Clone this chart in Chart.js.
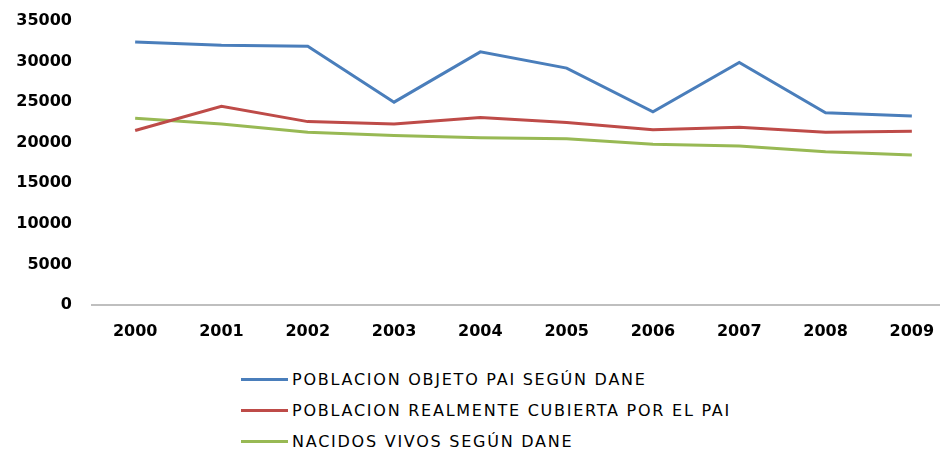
<!DOCTYPE html>
<html>
<head>
<meta charset="utf-8">
<script src="https://cdn.jsdelivr.net/npm/chart.js@4"></script>
<style>
  html, body { margin: 0; padding: 0; background: #fff; overflow: hidden; width: 940px; height: 451px; }
  #wrap { position: absolute; left: 0; top: 0; width: 960px; height: 345px; }
  #legend { position: absolute; left: 241px; top: 364px; font-family: "DejaVu Sans", sans-serif; font-size: 16px; color: #000; letter-spacing: 1.75px; }
  .row { height: 31px; display: flex; align-items: center; position: absolute; left: 0; white-space: nowrap; }
  .swatch { width: 47px; height: 3px; margin-right: 4px; }
</style>
</head>
<body>
<div id="wrap"><canvas id="chart" width="960" height="345"></canvas></div>
<div id="legend"></div>
<script>
const years = ["2000", "2001", "2002", "2003", "2004", "2005", "2006", "2007", "2008", "2009"];
const poblacionObjeto = [32400, 32000, 31900, 25000, 31200, 29200, 23800, 29900, 23700, 23300];
const poblacionCubierta = [21500, 24500, 22600, 22300, 23100, 22500, 21600, 21900, 21300, 21400];
const nacidosVivos = [23000, 22300, 21300, 20900, 20600, 20500, 19800, 19600, 18900, 18500];
const seriesNames = [
    "POBLACION OBJETO PAI SEGÚN DANE",
    "POBLACION REALMENTE CUBIERTA POR EL PAI",
    "NACIDOS VIVOS SEGÚN DANE"
];
const seriesColors = ["#4A7EBB", "#BE4B48", "#98B954"];
const yTicks = [0, 5000, 10000, 15000, 20000, 25000, 30000, 35000];

const tickFont = { family: "DejaVu Sans", size: 16, weight: "bold" };

function makeDataset(i, data) {
    return {
        label: seriesNames[i],
        data: data,
        borderColor: seriesColors[i],
        backgroundColor: seriesColors[i],
        borderWidth: 3,
        pointRadius: 0,
        tension: 0,
        fill: false
    };
}

const ctx = document.getElementById('chart').getContext('2d');
const chart = new Chart(ctx, {
    type: 'line',
    data: {
        labels: years,
        datasets: [
            makeDataset(0, poblacionObjeto),
            makeDataset(1, poblacionCubierta),
            makeDataset(2, nacidosVivos)
        ]
    },
    options: {
        responsive: false,
        animation: false,
        layout: { padding: { top: 21, right: 5, left: 0, bottom: 0 } },
        plugins: {
            legend: { display: false },
            tooltip: { enabled: false }
        },
        scales: {
            x: {
                offset: true,
                grid: { display: false, drawTicks: false },
                border: { display: true, color: "#BFBFBF", width: 2 },
                ticks: { font: tickFont, color: "#000", padding: 17, maxRotation: 0 },
                // fixed axis box so the plot area lines up with the picture
                afterFit: (scale) => { scale.height = 40; scale.paddingLeft = 0; scale.paddingRight = 0; }
            },
            y: {
                min: 0,
                max: 35000,
                afterBuildTicks: (scale) => { scale.ticks = yTicks.map(v => ({ value: v })); },
                grid: { display: false, drawTicks: false },
                border: { display: false },
                ticks: { font: tickFont, color: "#000", padding: 20, callback: (v) => String(v) },
                afterFit: (scale) => { scale.width = 92; scale.paddingTop = 0; scale.paddingBottom = 0; }
            }
        }
    }
});

// legend vertical, left aligned
const legend = document.getElementById('legend');
seriesNames.forEach((name, i) => {
    const row = document.createElement('div');
    row.className = 'row';
    row.style.top = (i * 31) + 'px';
    const sw = document.createElement('div');
    sw.className = 'swatch';
    sw.style.background = seriesColors[i];
    const txt = document.createElement('span');
    txt.textContent = name;
    row.appendChild(sw);
    row.appendChild(txt);
    legend.appendChild(row);
});
</script>
</body>
</html>
